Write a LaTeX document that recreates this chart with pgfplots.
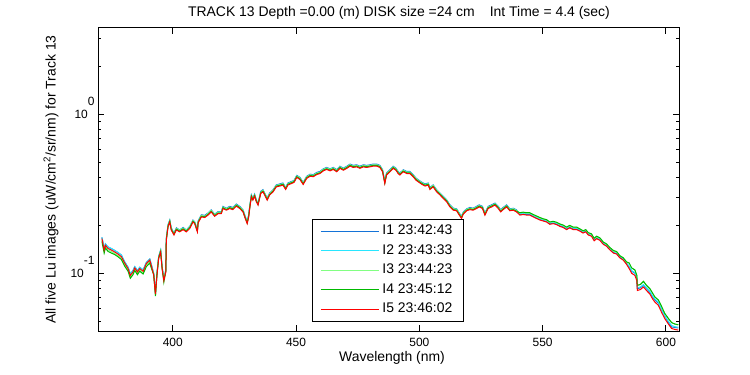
\documentclass[border=0pt]{standalone}
\usepackage{fontspec}
\setmainfont{Liberation Sans}
\usepackage{pgfplots}
\usepackage{pgfplotstable}
\pgfplotsset{compat=1.18}
\definecolor{cI1}{RGB}{20,115,215}
\definecolor{cI2}{RGB}{40,230,255}
\definecolor{cI3}{RGB}{130,255,130}
\definecolor{cI4}{RGB}{0,185,0}
\definecolor{cI5}{RGB}{255,0,0}
\pgfplotstableread{
x a b c d e
371.3 0.168 0.168 0.162 0.158 0.165
372.2 0.143 0.143 0.137 0.134 0.140
372.7 0.153 0.153 0.147 0.144 0.150
373.8 0.146 0.146 0.140 0.137 0.143
375.1 0.143 0.143 0.137 0.134 0.140
376.5 0.139 0.139 0.133 0.131 0.136
377.8 0.135 0.135 0.129 0.127 0.132
379.2 0.130 0.130 0.124 0.122 0.127
380.5 0.118 0.118 0.114 0.111 0.116
381.9 0.109 0.109 0.105 0.103 0.107
382.8 0.099 0.099 0.095 0.093 0.097
383.9 0.104 0.104 0.100 0.098 0.102
384.6 0.110 0.110 0.106 0.104 0.108
385.7 0.104 0.104 0.100 0.098 0.102
386.6 0.109 0.109 0.105 0.103 0.107
388.0 0.105 0.105 0.101 0.099 0.103
389.3 0.117 0.117 0.113 0.110 0.115
390.7 0.123 0.123 0.119 0.116 0.121
391.3 0.114 0.114 0.110 0.108 0.112
392.3 0.100 0.099 0.099 0.098 0.097
393.0 0.076 0.075 0.073 0.072 0.074
393.6 0.100 0.099 0.099 0.098 0.097
394.3 0.128 0.126 0.126 0.125 0.124
395.1 0.140 0.139 0.139 0.137 0.136
395.7 0.110 0.109 0.109 0.108 0.107
396.4 0.093 0.092 0.092 0.088 0.090
397.2 0.105 0.104 0.104 0.103 0.102
397.4 0.166 0.164 0.164 0.163 0.161
398.1 0.202 0.200 0.200 0.198 0.196
398.8 0.216 0.214 0.214 0.212 0.210
399.4 0.193 0.191 0.191 0.189 0.187
400.5 0.179 0.177 0.177 0.176 0.174
401.5 0.193 0.191 0.191 0.189 0.187
402.8 0.187 0.186 0.186 0.184 0.182
404.2 0.194 0.192 0.192 0.190 0.188
405.5 0.187 0.186 0.186 0.184 0.182
406.9 0.197 0.195 0.195 0.193 0.191
408.2 0.216 0.214 0.214 0.212 0.210
408.9 0.211 0.209 0.209 0.207 0.205
410.0 0.187 0.186 0.186 0.184 0.182
410.3 0.213 0.211 0.211 0.209 0.207
411.6 0.233 0.231 0.231 0.228 0.226
413.0 0.231 0.228 0.228 0.226 0.224
414.3 0.239 0.237 0.237 0.234 0.232
415.6 0.250 0.248 0.248 0.245 0.243
417.0 0.235 0.233 0.233 0.230 0.228
418.4 0.244 0.242 0.242 0.239 0.237
419.7 0.244 0.242 0.242 0.239 0.237
420.4 0.263 0.260 0.260 0.258 0.255
421.7 0.256 0.254 0.254 0.251 0.249
423.1 0.263 0.260 0.260 0.258 0.255
424.4 0.259 0.256 0.256 0.254 0.251
425.8 0.272 0.269 0.269 0.267 0.264
427.2 0.263 0.260 0.260 0.258 0.255
428.5 0.250 0.248 0.248 0.245 0.243
429.4 0.228 0.225 0.225 0.223 0.221
430.2 0.211 0.209 0.209 0.207 0.205
430.8 0.233 0.231 0.231 0.228 0.226
431.3 0.269 0.266 0.266 0.264 0.261
431.9 0.311 0.308 0.308 0.305 0.302
432.5 0.297 0.294 0.294 0.291 0.288
433.2 0.314 0.311 0.311 0.308 0.305
433.9 0.289 0.287 0.287 0.284 0.281
434.6 0.276 0.273 0.273 0.271 0.268
435.7 0.327 0.323 0.323 0.320 0.317
436.6 0.335 0.332 0.332 0.328 0.325
437.3 0.319 0.316 0.316 0.313 0.310
438.3 0.297 0.294 0.294 0.291 0.288
439.3 0.319 0.316 0.316 0.313 0.310
440.7 0.335 0.332 0.332 0.328 0.325
442.0 0.359 0.356 0.356 0.352 0.349
443.4 0.364 0.360 0.360 0.357 0.353
444.7 0.369 0.365 0.365 0.362 0.358
445.8 0.346 0.343 0.343 0.339 0.336
446.7 0.369 0.365 0.365 0.362 0.358
448.1 0.377 0.373 0.373 0.370 0.366
449.2 0.383 0.379 0.379 0.376 0.372
450.3 0.412 0.408 0.408 0.404 0.400
451.6 0.400 0.396 0.396 0.392 0.388
452.9 0.372 0.368 0.368 0.365 0.361
454.3 0.406 0.402 0.402 0.398 0.394
455.7 0.419 0.415 0.415 0.411 0.407
457.0 0.416 0.412 0.412 0.408 0.404
458.4 0.430 0.425 0.425 0.421 0.417
459.7 0.436 0.431 0.431 0.427 0.423
461.1 0.453 0.449 0.449 0.444 0.440
462.4 0.462 0.458 0.458 0.453 0.449
463.8 0.453 0.449 0.449 0.444 0.440
465.1 0.462 0.458 0.458 0.453 0.449
466.5 0.447 0.443 0.443 0.438 0.434
467.8 0.470 0.465 0.465 0.461 0.456
469.2 0.457 0.453 0.453 0.448 0.444
470.6 0.470 0.465 0.465 0.461 0.456
471.9 0.485 0.480 0.480 0.476 0.471
473.2 0.476 0.471 0.471 0.467 0.462
474.6 0.480 0.475 0.475 0.471 0.466
475.9 0.470 0.465 0.465 0.461 0.456
477.3 0.480 0.475 0.475 0.471 0.466
478.6 0.476 0.471 0.471 0.467 0.462
480.0 0.480 0.475 0.475 0.471 0.466
481.3 0.485 0.480 0.480 0.476 0.471
482.7 0.485 0.480 0.480 0.476 0.471
484.0 0.476 0.471 0.471 0.467 0.462
485.1 0.447 0.443 0.443 0.438 0.434
486.0 0.377 0.373 0.373 0.370 0.366
486.7 0.426 0.422 0.422 0.418 0.414
488.1 0.447 0.443 0.443 0.438 0.434
489.4 0.470 0.465 0.465 0.461 0.456
490.5 0.457 0.453 0.453 0.448 0.444
491.4 0.436 0.431 0.431 0.427 0.423
492.1 0.426 0.422 0.422 0.418 0.414
493.5 0.447 0.443 0.443 0.438 0.434
494.9 0.436 0.431 0.431 0.427 0.423
496.2 0.436 0.431 0.431 0.427 0.423
497.5 0.416 0.412 0.412 0.408 0.404
498.6 0.397 0.393 0.393 0.389 0.385
499.6 0.386 0.383 0.383 0.379 0.375
500.9 0.374 0.370 0.370 0.367 0.363
502.3 0.364 0.360 0.360 0.357 0.353
503.6 0.369 0.365 0.365 0.362 0.358
504.3 0.346 0.343 0.343 0.339 0.336
505.6 0.359 0.356 0.356 0.352 0.349
507.0 0.335 0.332 0.332 0.328 0.325
508.4 0.319 0.316 0.316 0.313 0.310
509.7 0.304 0.301 0.301 0.298 0.295
511.1 0.289 0.287 0.287 0.284 0.281
512.4 0.269 0.266 0.266 0.264 0.261
513.8 0.256 0.254 0.254 0.251 0.249
515.1 0.254 0.252 0.252 0.249 0.247
516.2 0.239 0.237 0.237 0.234 0.232
517.1 0.228 0.225 0.225 0.223 0.221
517.8 0.242 0.240 0.240 0.237 0.235
519.2 0.254 0.252 0.252 0.249 0.247
520.5 0.259 0.256 0.256 0.254 0.251
521.8 0.256 0.254 0.254 0.251 0.249
523.2 0.263 0.260 0.260 0.258 0.255
524.3 0.269 0.266 0.266 0.264 0.261
525.6 0.263 0.260 0.260 0.258 0.255
526.6 0.239 0.237 0.237 0.234 0.232
527.9 0.263 0.260 0.260 0.258 0.255
529.3 0.269 0.266 0.266 0.264 0.261
530.7 0.276 0.273 0.273 0.271 0.268
532.0 0.263 0.260 0.260 0.258 0.255
533.0 0.250 0.248 0.248 0.245 0.243
534.0 0.259 0.256 0.256 0.254 0.251
535.4 0.269 0.266 0.266 0.264 0.261
536.7 0.254 0.252 0.252 0.249 0.247
538.1 0.256 0.254 0.254 0.251 0.249
539.4 0.250 0.248 0.248 0.245 0.243
540.8 0.234 0.237 0.239 0.240 0.232
542.1 0.236 0.239 0.241 0.242 0.234
543.5 0.234 0.237 0.239 0.240 0.232
544.8 0.234 0.237 0.239 0.240 0.232
546.2 0.228 0.231 0.233 0.234 0.226
547.5 0.223 0.225 0.228 0.229 0.221
548.9 0.218 0.220 0.222 0.224 0.216
550.2 0.215 0.217 0.219 0.220 0.213
551.6 0.212 0.214 0.216 0.217 0.210
552.9 0.205 0.207 0.209 0.210 0.203
554.3 0.207 0.209 0.211 0.212 0.205
555.7 0.204 0.206 0.208 0.209 0.202
557.0 0.199 0.201 0.203 0.204 0.197
558.3 0.196 0.198 0.200 0.201 0.194
559.7 0.190 0.192 0.194 0.195 0.188
561.0 0.195 0.197 0.199 0.200 0.193
562.4 0.190 0.192 0.194 0.195 0.188
563.8 0.190 0.192 0.194 0.195 0.188
565.1 0.186 0.188 0.190 0.190 0.184
566.4 0.181 0.183 0.184 0.185 0.179
567.5 0.184 0.186 0.187 0.188 0.182
568.5 0.176 0.177 0.179 0.180 0.174
569.8 0.173 0.174 0.176 0.177 0.171
570.9 0.162 0.163 0.165 0.166 0.160
571.9 0.167 0.168 0.170 0.171 0.165
573.2 0.163 0.164 0.166 0.167 0.161
574.6 0.154 0.155 0.157 0.157 0.152
575.9 0.149 0.151 0.152 0.153 0.148
577.3 0.141 0.143 0.144 0.145 0.140
578.7 0.135 0.137 0.138 0.139 0.134
580.0 0.133 0.135 0.136 0.137 0.132
581.3 0.126 0.128 0.129 0.129 0.125
582.7 0.122 0.123 0.125 0.125 0.121
584.0 0.115 0.116 0.117 0.118 0.114
585.1 0.110 0.111 0.116 0.116 0.107
586.1 0.103 0.104 0.108 0.108 0.100
587.4 0.100 0.101 0.105 0.105 0.097
588.2 0.093 0.094 0.097 0.097 0.090
588.4 0.080 0.081 0.084 0.084 0.078
589.6 0.081 0.082 0.085 0.085 0.079
590.9 0.084 0.085 0.089 0.089 0.082
592.1 0.080 0.081 0.084 0.084 0.078
593.5 0.076 0.077 0.080 0.080 0.074
594.6 0.071 0.072 0.075 0.075 0.069
595.5 0.068 0.069 0.071 0.071 0.066
596.9 0.065 0.066 0.068 0.068 0.063
598.2 0.059 0.059 0.062 0.062 0.057
599.5 0.054 0.054 0.056 0.056 0.052
601.0 0.049 0.050 0.052 0.052 0.048
602.3 0.046 0.047 0.049 0.049 0.045
603.6 0.0457 0.0462 0.0480 0.0480 0.0444
605.0 0.0453 0.0458 0.0475 0.0475 0.0440
}\spectra

\begin{document}
\begin{tikzpicture}
\useasboundingbox (0,0) rectangle (750bp,375bp);
\begin{axis}[
  at={(98bp,44bp)}, anchor=south west,
  scale only axis, width=581bp, height=303bp,
  xmin=369.7, xmax=605.3,
  ymode=log, ymin=0.0434, ymax=3.47,
  xtick={400,450,500,550,600},
  ytick={0.1,1},
  yticklabels={10\smash{\raisebox{1.05em}{-1}}, 10\smash{\raisebox{1.05em}{0}}},
  minor ytick={0.05,0.06,0.07,0.08,0.09,0.2,0.3,0.4,0.5,0.6,0.7,0.8,0.9,2,3},
  tick align=inside,
  major tick length=6bp, minor tick length=3bp,
  every tick/.style={black, line width=0.9bp},
  axis line style={line width=1bp},
  tick label style={font=\fontsize{12}{14}\selectfont},
  /pgf/number format/assume math mode=true,
  xticklabel style={yshift=-4bp},
  label style={font=\fontsize{14}{16}\selectfont},
  xlabel={Wavelength (nm)},
  xlabel style={at={(axis description cs:0.506,-0.0891)}, anchor=center},
  ylabel={All five Lu images (uW/cm\textsuperscript{2}/sr/nm) for Track 13},
  ylabel style={at={(axis description cs:-0.0809,0.5)}, anchor=center},
  every axis title shift=0pt,
  title={TRACK 13 Depth =0.00 (m) DISK size =24 cm\hspace{15bp}Int Time = 4.4 (sec)},
  title style={at={(axis description cs:0.518,1.0495)}, anchor=center, font=\fontsize{14}{16}\selectfont},
  no marks,
  legend cell align=left,
  legend image code/.code={\draw[#1] (0bp,0bp) -- (58bp,0bp);},
  legend style={at={(axis description cs:0.3683,0.0297)}, anchor=south west,
    draw=black, line width=1bp, font=\fontsize{14}{16}\selectfont,
    inner xsep=8bp, inner ysep=2.5bp, row sep=0bp, column sep=0bp,
    nodes={inner xsep=3bp, inner ysep=3.25bp, text height=10bp, text depth=3bp}},
]
\addplot[cI1, line width=1bp] table[x=x, y=a]{\spectra};
\addlegendentry{I1 23:42:43}
\addplot[cI2, line width=1bp] table[x=x, y=b]{\spectra};
\addlegendentry{I2 23:43:33}
\addplot[cI3, line width=1bp] table[x=x, y=c]{\spectra};
\addlegendentry{I3 23:44:23}
\addplot[cI4, line width=1bp] table[x=x, y=d]{\spectra};
\addlegendentry{I4 23:45:12}
\addplot[cI5, line width=1bp] table[x=x, y=e]{\spectra};
\addlegendentry{I5 23:46:02}
\end{axis}
\end{tikzpicture}
\end{document}
